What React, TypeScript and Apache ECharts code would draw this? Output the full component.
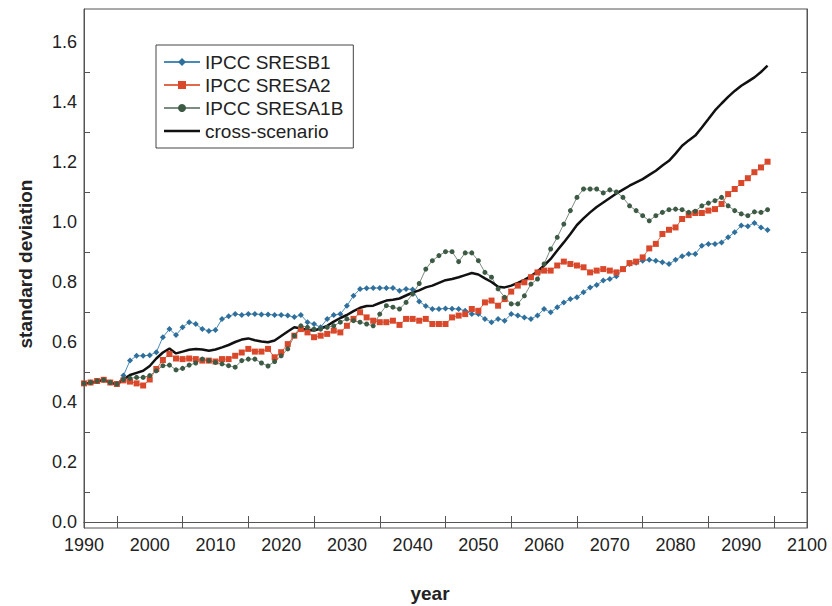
import React, { useEffect, useRef } from "react";
import * as echarts from "echarts";

const firstYear = 1990;
const lastYear = 2094;
const years: number[] = [];
for (let y = firstYear; y <= lastYear; y++) years.push(y);

const xLabelValues = [1990, 2000, 2010, 2020, 2030, 2040, 2050, 2060, 2070, 2080, 2090, 2100];
const xTickValues = [1995, 2005, 2015, 2025, 2035, 2045, 2055, 2065, 2075, 2085, 2095];
const yLabelValues = [0, 0.2, 0.4, 0.6, 0.8, 1.0, 1.2, 1.4, 1.6];
const yTickValues = [0.1, 0.3, 0.5, 0.7, 0.9, 1.1, 1.3, 1.5];

const seriesNames = ["IPCC SRESB1", "IPCC SRESA2", "IPCC SRESA1B", "cross-scenario"];

const sresB1 = [
  0.462, 0.465, 0.470, 0.474, 0.465, 0.460, 0.488, 0.538, 0.554, 0.554,
  0.556, 0.566, 0.616, 0.643, 0.623, 0.649, 0.666, 0.660, 0.643, 0.637,
  0.640, 0.677, 0.686, 0.693, 0.690, 0.693, 0.693, 0.692, 0.692, 0.690,
  0.690, 0.688, 0.683, 0.690, 0.666, 0.660, 0.649, 0.677, 0.690, 0.693,
  0.721, 0.754, 0.777, 0.779, 0.780, 0.780, 0.780, 0.780, 0.771, 0.777,
  0.775, 0.735, 0.720, 0.710, 0.710, 0.712, 0.711, 0.710, 0.704, 0.693,
  0.693, 0.677, 0.666, 0.677, 0.671, 0.693, 0.688, 0.682, 0.677, 0.688,
  0.710, 0.699, 0.716, 0.732, 0.743, 0.749, 0.766, 0.782, 0.790, 0.805,
  0.810, 0.819, 0.843, 0.860, 0.864, 0.871, 0.874, 0.871, 0.866, 0.860,
  0.874, 0.886, 0.893, 0.893, 0.921, 0.927, 0.927, 0.932, 0.949, 0.966,
  0.988, 0.986, 0.997, 0.982, 0.973,
];

const sresA2 = [
  0.462, 0.465, 0.470, 0.474, 0.465, 0.460, 0.472, 0.468, 0.462, 0.455,
  0.475, 0.510, 0.540, 0.560, 0.545, 0.543, 0.545, 0.543, 0.538, 0.538,
  0.535, 0.543, 0.543, 0.554, 0.565, 0.577, 0.568, 0.568, 0.577, 0.549,
  0.566, 0.593, 0.621, 0.643, 0.632, 0.616, 0.621, 0.627, 0.638, 0.632,
  0.654, 0.677, 0.699, 0.682, 0.671, 0.666, 0.666, 0.671, 0.657, 0.677,
  0.677, 0.671, 0.677, 0.660, 0.660, 0.660, 0.682, 0.688, 0.693, 0.710,
  0.704, 0.732, 0.738, 0.721, 0.743, 0.768, 0.788, 0.799, 0.816, 0.832,
  0.838, 0.838, 0.855, 0.868, 0.860, 0.855, 0.849, 0.832, 0.838, 0.843,
  0.838, 0.832, 0.843, 0.863, 0.868, 0.882, 0.912, 0.927, 0.960, 0.974,
  0.982, 1.010, 1.023, 1.030, 1.030, 1.038, 1.043, 1.060, 1.093, 1.110,
  1.130, 1.146, 1.166, 1.182, 1.201,
];

const sresA1B = [
  0.462, 0.465, 0.470, 0.474, 0.465, 0.460, 0.475, 0.479, 0.482, 0.482,
  0.488, 0.504, 0.521, 0.523, 0.507, 0.512, 0.523, 0.530, 0.543, 0.538,
  0.532, 0.527, 0.521, 0.516, 0.538, 0.543, 0.543, 0.530, 0.520, 0.535,
  0.554, 0.577, 0.621, 0.654, 0.649, 0.643, 0.643, 0.649, 0.654, 0.666,
  0.677, 0.671, 0.666, 0.660, 0.654, 0.693, 0.721, 0.716, 0.710, 0.732,
  0.760, 0.795, 0.843, 0.871, 0.888, 0.901, 0.901, 0.868, 0.897, 0.897,
  0.871, 0.832, 0.816, 0.777, 0.749, 0.727, 0.727, 0.754, 0.793, 0.810,
  0.860, 0.910, 0.949, 0.993, 1.038, 1.082, 1.110, 1.110, 1.110, 1.097,
  1.107, 1.100, 1.082, 1.054, 1.038, 1.021, 1.004, 1.021, 1.032, 1.041,
  1.043, 1.041, 1.032, 1.036, 1.054, 1.063, 1.071, 1.082, 1.054, 1.038,
  1.027, 1.021, 1.034, 1.032, 1.041,
];

const crossScenario = [
  0.462, 0.463, 0.468, 0.474, 0.465, 0.458, 0.475, 0.490, 0.497, 0.504,
  0.520, 0.545, 0.565, 0.578, 0.562, 0.568, 0.574, 0.577, 0.575, 0.571,
  0.575, 0.582, 0.590, 0.600, 0.608, 0.612, 0.606, 0.602, 0.599, 0.605,
  0.620, 0.635, 0.649, 0.645, 0.640, 0.638, 0.645, 0.654, 0.668, 0.680,
  0.690, 0.703, 0.714, 0.720, 0.721, 0.730, 0.738, 0.741, 0.745, 0.755,
  0.765, 0.772, 0.782, 0.788, 0.797, 0.806, 0.810, 0.816, 0.823, 0.830,
  0.825, 0.812, 0.800, 0.784, 0.782, 0.788, 0.797, 0.807, 0.820, 0.835,
  0.855, 0.877, 0.905, 0.932, 0.960, 0.990, 1.012, 1.032, 1.050, 1.065,
  1.080, 1.095, 1.108, 1.121, 1.132, 1.143, 1.157, 1.171, 1.188, 1.204,
  1.228, 1.254, 1.272, 1.288, 1.315, 1.343, 1.372, 1.395, 1.417, 1.437,
  1.454, 1.468, 1.482, 1.500, 1.521,
];

const pairs = (vals: number[]) => years.map((y, i) => [y, vals[i]]);

const FONT = "'Liberation Sans', Arial, Helvetica, sans-serif";
const AXIS_COLOR = "#555";

export default function App() {
  const ref = useRef<HTMLDivElement>(null);
  useEffect(() => {
    if (!ref.current) return;
    const chart = echarts.init(ref.current, undefined, { renderer: "svg" });
    const xBase = {
      type: "value" as const,
      min: 1990,
      max: 2100,
      axisLine: { show: true, lineStyle: { color: AXIS_COLOR, width: 1 } },
      axisTick: { show: true, inside: true, length: 6, customValues: xTickValues, lineStyle: { color: AXIS_COLOR } },
      splitLine: { show: false },
    };
    const yBase = {
      type: "value" as const,
      min: -0.02,
      max: 1.71,
      axisLine: { show: true, lineStyle: { color: AXIS_COLOR, width: 1 } },
      axisTick: { show: true, inside: true, length: 6, customValues: yTickValues, lineStyle: { color: AXIS_COLOR } },
      splitLine: { show: false },
    };
    chart.setOption({
      animation: false,
      backgroundColor: "#fff",
      textStyle: { fontFamily: FONT },
      grid: { left: 84, right: 25, top: 9, bottom: 78, show: true, borderColor: AXIS_COLOR, borderWidth: 1 },
      legend: {
        orient: "vertical",
        left: 156,
        top: 45,
        padding: [6, 10, 6, 7],
        borderColor: "#444",
        borderWidth: 1,
        backgroundColor: "#fff",
        itemWidth: 36,
        itemHeight: 10,
        itemGap: 1,
        data: [
          { name: seriesNames[0] },
          { name: seriesNames[1] },
          { name: seriesNames[2] },
          { name: seriesNames[3], icon: "path://M0,0L36,0L36,2.6L0,2.6Z" },
        ],
        textStyle: { fontSize: 19, lineHeight: 22, fontFamily: FONT, color: "#222" },
      },
      xAxis: [
        {
          ...xBase,
          position: "bottom",
          axisLabel: {
            show: true,
            customValues: xLabelValues,
            fontSize: 18,
            color: "#222",
            margin: 8,
            fontFamily: FONT,
            formatter: (v: number) => String(v),
          },
        },
        { ...xBase, position: "top", axisLabel: { show: false } },
      ],
      yAxis: [
        {
          ...yBase,
          position: "left",
          axisLabel: {
            show: true,
            customValues: yLabelValues,
            fontSize: 18,
            color: "#222",
            margin: 7,
            fontFamily: FONT,
            formatter: (v: number) => v.toFixed(1),
          },
        },
        { ...yBase, position: "right", axisLabel: { show: false } },
      ],
      graphic: [
        {
          type: "text",
          x: 25,
          y: 264,
          rotation: Math.PI / 2,
          style: {
            text: "standard deviation",
            fontSize: 19,
            fontWeight: "bold",
            fontFamily: FONT,
            fill: "#222",
            textAlign: "center",
            textVerticalAlign: "middle",
          },
        },
        {
          type: "text",
          x: 430,
          y: 593,
          style: {
            text: "year",
            fontSize: 19,
            fontWeight: "bold",
            fontFamily: FONT,
            fill: "#222",
            textAlign: "center",
            textVerticalAlign: "middle",
          },
        },
      ],
      series: [
        {
          name: seriesNames[0],
          type: "line",
          data: pairs(sresB1),
          symbol: "diamond",
          symbolSize: 6,
          lineStyle: { color: "#4a8ab8", width: 1 },
          itemStyle: { color: "#2f6f9c" },
        },
        {
          name: seriesNames[1],
          type: "line",
          data: pairs(sresA2),
          symbol: "rect",
          symbolSize: 6,
          lineStyle: { color: "#e0694a", width: 1 },
          itemStyle: { color: "#d9482a" },
        },
        {
          name: seriesNames[2],
          type: "line",
          data: pairs(sresA1B),
          symbol: "circle",
          symbolSize: 5,
          lineStyle: { color: "#7d8c80", width: 1 },
          itemStyle: { color: "#3c5a44" },
        },
        {
          name: seriesNames[3],
          type: "line",
          data: pairs(crossScenario),
          showSymbol: false,
          symbol: "none",
          lineStyle: { color: "#111", width: 2.5 },
          itemStyle: { color: "#111" },
        },
      ],
    });
    return () => chart.dispose();
  }, []);
  return (
    <div
      ref={ref}
      style={{ position: "absolute", left: 0, top: 0, width: 832, height: 606 }}
    />
  );
}
